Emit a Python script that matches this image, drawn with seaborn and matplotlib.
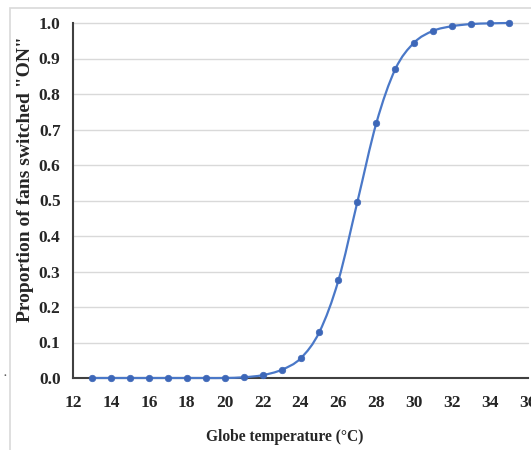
import matplotlib
matplotlib.use("Agg")
import matplotlib.pyplot as plt
from matplotlib.path import Path
from matplotlib.patches import PathPatch, Rectangle
import numpy as np
import pandas as pd
import seaborn as sns

temps = [13, 14, 15, 16, 17, 18, 19, 20, 21, 22, 23, 24, 25, 26, 27, 28, 29, 30, 31, 32, 33, 34, 35]
proportion = [0.0, 0.0, 0.0, 0.0, 0.0, 0.0, 0.0, 0.0, 0.002, 0.008, 0.023, 0.055, 0.13, 0.275, 0.496,
              0.718, 0.87, 0.945, 0.978, 0.991, 0.997, 0.999, 1.0]
x_ticks = [12, 14, 16, 18, 20, 22, 24, 26, 28, 30, 32, 34, 36]
y_ticks = [0.0, 0.1, 0.2, 0.3, 0.4, 0.5, 0.6, 0.7, 0.8, 0.9, 1.0]

sns.set_style("white")
plt.rcParams['font.family'] = ['Liberation Serif', 'DejaVu Serif']
plt.rcParams['font.weight'] = 'bold'

df = pd.DataFrame({"temp": temps, "prop": proportion})

fig = plt.figure(figsize=(5.31, 4.5), dpi=100)
fig.patches.append(Rectangle((10 / 531, -0.05), 1.2, 1 - 8 / 450 + 0.05, transform=fig.transFigure,
                             fill=False, edgecolor="#d9d9d9", linewidth=1.2))
ax = fig.add_axes([73 / 531, 1 - 378 / 450, (528 - 73) / 531, (378 - 23) / 450])

ax.set_xlim(12, 36)
ax.set_ylim(0, 1.0)

for yv in y_ticks[1:]:
    ax.axhline(yv, color="#d9d9d9", linewidth=1.0, zorder=0, clip_on=False)

# smooth line (Catmull-Rom rendered as Bezier curves, like a spreadsheet smoothed line)
xs = np.array(temps, dtype=float)
ys = np.array(proportion, dtype=float)
verts = [(xs[0], ys[0])]
codes = [Path.MOVETO]
n = len(xs)
for i in range(n - 1):
    p0 = (xs[max(i - 1, 0)], ys[max(i - 1, 0)])
    p1 = (xs[i], ys[i])
    p2 = (xs[i + 1], ys[i + 1])
    p3 = (xs[min(i + 2, n - 1)], ys[min(i + 2, n - 1)])
    c1 = (p1[0] + (p2[0] - p0[0]) / 6, p1[1] + (p2[1] - p0[1]) / 6)
    c2 = (p2[0] - (p3[0] - p1[0]) / 6, p2[1] - (p3[1] - p1[1]) / 6)
    verts += [c1, c2, p2]
    codes += [Path.CURVE4] * 3
ax.add_patch(PathPatch(Path(verts, codes), facecolor="none", edgecolor="#4a78c8",
                       linewidth=1.6, zorder=3, clip_on=False))

sns.scatterplot(data=df, x="temp", y="prop", ax=ax, color="#3d67b8", s=22,
                edgecolor="#3d67b8", linewidth=0.5, zorder=4, clip_on=False, legend=False)

ax.set_xticks(x_ticks)
ax.set_yticks(y_ticks)
ax.set_xticklabels([str(v) for v in x_ticks], fontsize=12.5, fontweight="bold", color="#262626")
ax.set_yticklabels([f"{v:.1f}" for v in y_ticks], fontsize=12.5, fontweight="bold", color="#262626")
ax.tick_params(axis="both", direction="inout", length=8, width=1.3, color="#404040", pad=5)
ax.tick_params(axis="x", pad=8)

for s in ["top", "right"]:
    ax.spines[s].set_visible(False)
for s in ["left", "bottom"]:
    ax.spines[s].set_color("#404040")
    ax.spines[s].set_linewidth(1.5)

ax.set_xlabel("Globe temperature (\u00b0C)", fontsize=11.2, fontweight="bold", color="#262626")
ax.xaxis.set_label_coords((285 - 73) / 455, -(437 - 378) / 355)
ax.xaxis.label.set_va("center")
ax.set_ylabel("Proportion of fans switched \"ON\"", fontsize=14, fontweight="bold", color="#262626")
ax.yaxis.set_label_coords(-(73 - 26) / 455, (378 - 179) / 355)
ax.yaxis.label.set_va("center")

fig.text(5 / 531, 1 - 378 / 450, ".", fontsize=8, color="#555555", ha="center", va="bottom")

fig.savefig("out.png", dpi=100)
